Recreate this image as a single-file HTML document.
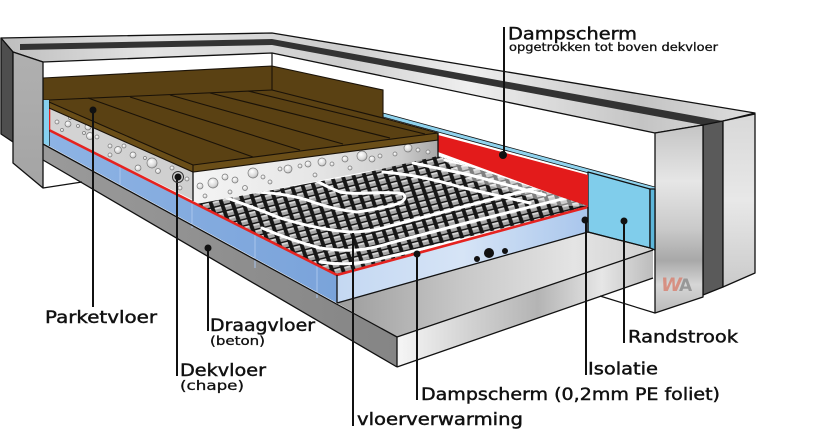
<!DOCTYPE html>
<html><head><meta charset="utf-8"><style>
html,body{margin:0;padding:0;background:#fff;}
svg{display:block;}
.t{font-family:"DejaVu Sans","Liberation Sans",sans-serif;fill:#111;stroke:#111;stroke-width:.45;}
.o{stroke:#111;stroke-width:1.3;stroke-linejoin:round;}
.b{fill:url(#bub);stroke:#7a7a7a;stroke-width:.7;}
</style></head><body>
<svg width="822" height="447" viewBox="0 0 822 447" xmlns="http://www.w3.org/2000/svg">
<defs>
<linearGradient id="gBand" x1="0" y1="0" x2="1" y2="0">
<stop offset="0" stop-color="#bdbdbd"/><stop offset=".2" stop-color="#e4e4e4"/><stop offset=".45" stop-color="#cdcdcd"/><stop offset=".62" stop-color="#efefef"/><stop offset=".85" stop-color="#c4c4c4"/><stop offset="1" stop-color="#dedede"/>
</linearGradient>
<linearGradient id="gSil" x1="0" y1="0" x2="0" y2="1">
<stop offset="0" stop-color="#c4c4c4"/><stop offset=".3" stop-color="#e6e6e6"/><stop offset=".55" stop-color="#cacaca"/><stop offset=".72" stop-color="#a8a8a8"/><stop offset=".85" stop-color="#d6d6d6"/><stop offset="1" stop-color="#bababa"/>
</linearGradient>
<linearGradient id="gSil2" x1="0" y1="0" x2="0" y2="1">
<stop offset="0" stop-color="#d8d8d8"/><stop offset=".5" stop-color="#e8e8e8"/><stop offset="1" stop-color="#cacaca"/>
</linearGradient>
<linearGradient id="gTop" x1="0" y1="0" x2="1" y2="0">
<stop offset="0" stop-color="#9c9c9c"/><stop offset=".4" stop-color="#c8c8c8"/><stop offset=".75" stop-color="#e4e4e4"/><stop offset="1" stop-color="#d0d0d0"/>
</linearGradient>
<linearGradient id="gFront" x1="0" y1="0" x2="1" y2="0">
<stop offset="0" stop-color="#f6f6f6"/><stop offset=".3" stop-color="#d0d0d0"/><stop offset=".55" stop-color="#b4b4b4"/><stop offset=".8" stop-color="#e6e6e6"/><stop offset="1" stop-color="#bcbcbc"/>
</linearGradient>
<linearGradient id="gSlabL" x1="0" y1="0" x2="1" y2="0">
<stop offset="0" stop-color="#9a9a9a"/><stop offset="1" stop-color="#858585"/>
</linearGradient>
<linearGradient id="gBlueL" x1="0" y1="0" x2="1" y2="0">
<stop offset="0" stop-color="#8db3e4"/><stop offset="1" stop-color="#7aa3da"/>
</linearGradient>
<linearGradient id="gBlueR" x1="0" y1="0" x2="1" y2="0">
<stop offset="0" stop-color="#c4d8f2"/><stop offset=".5" stop-color="#d6e4f6"/><stop offset="1" stop-color="#a9c6ec"/>
</linearGradient>
<linearGradient id="gChL" x1="0" y1="0" x2="1" y2="0">
<stop offset="0" stop-color="#d4d4d4"/><stop offset="1" stop-color="#cfcfcf"/>
</linearGradient>
<linearGradient id="gChF" x1="0" y1="0" x2="1" y2="0">
<stop offset="0" stop-color="#f4f4f4"/><stop offset=".5" stop-color="#e6e6e6"/><stop offset=".85" stop-color="#cccccc"/><stop offset="1" stop-color="#a8a8a8"/>
</linearGradient>
<linearGradient id="gWallL" x1="0" y1="0" x2="0" y2="1">
<stop offset="0" stop-color="#b0b0b0"/><stop offset="1" stop-color="#a4a4a4"/>
</linearGradient>
<radialGradient id="bub" cx=".4" cy=".35" r=".7">
<stop offset="0" stop-color="#ffffff"/><stop offset=".7" stop-color="#d8d8d8"/><stop offset="1" stop-color="#a0a0a0"/>
</radialGradient>
<pattern id="knob" width="10" height="6" patternUnits="userSpaceOnUse" patternTransform="matrix(1,-0.25,0.35,1,0,0)">
<rect width="10" height="6" fill="#161616"/>
<rect x="0.4" y="0.5" width="6.2" height="4.6" fill="#a4a4a4"/>
<rect x="0.4" y="0.5" width="6.2" height="1.7" fill="#d8d8d8"/>
</pattern>
<clipPath id="matClip"><polygon points="196,204 240,196 300,185 360,174 438,156 588,206 337,275"/></clipPath>
</defs>

<!-- frame top band -->
<polygon points="1,38 272,33 755,113 723,121 703,125 655,133 272,53 43,62 13,52" fill="url(#gBand)" class="o"/>
<polygon points="20,44 272,39 723,121 703,125 272,45 20,50" fill="#333"/>
<line x1="272" y1="53" x2="272" y2="66" stroke="#111" stroke-width="1.2"/>
<!-- left dark piece -->
<polygon points="1,38 13,52 13,142 1,134" fill="#4e4e4e" class="o"/>

<!-- right wall -->
<polygon points="703,125 723,121 723,287 703,295" fill="#5a5a5a" class="o"/>
<polygon points="723,121 755,114 755,273 723,287" fill="url(#gSil2)" class="o"/>
<polygon points="655,133 703,125 703,297 655,313" fill="url(#gSil)" class="o"/>
<text x="661" y="291" font-family="DejaVu Sans,sans-serif" font-size="19" font-weight="bold" font-style="italic" fill="#d8806f" opacity=".8">W</text>
<text x="679" y="291" font-family="DejaVu Sans,sans-serif" font-size="17" font-weight="bold" fill="#8a8a8a" opacity=".8">A</text>

<!-- slab -->
<polygon points="43,144 397,337 397,367 43,160" fill="url(#gSlabL)"/>
<polygon points="337,303 588,232 653,250 397,337" fill="url(#gTop)"/>
<polygon points="397,337 653,250 653,278 397,367" fill="url(#gFront)"/>
<line x1="600" y1="296" x2="655" y2="313" stroke="#111" stroke-width="1.2"/>
<line x1="43" y1="188" x2="82" y2="182" stroke="#111" stroke-width="1.2"/>

<!-- insulation -->
<polygon points="49,130 337,275 337,303 49,146" fill="url(#gBlueL)"/>
<line x1="192" y1="202" x2="192" y2="228" stroke="#a9c5ec" stroke-width="1"/>
<line x1="255" y1="234" x2="255" y2="268" stroke="#a9c5ec" stroke-width="1"/>
<line x1="317" y1="265" x2="317" y2="298" stroke="#a9c5ec" stroke-width="1"/>
<line x1="120" y1="166" x2="120" y2="186" stroke="#a9c5ec" stroke-width="1"/>
<polygon points="337,275 588,207 588,232 337,303" fill="url(#gBlueR)"/>
<circle cx="477" cy="259" r="3" fill="#111"/>
<circle cx="489" cy="253" r="5" fill="#111"/>
<circle cx="505" cy="251" r="3" fill="#111"/>

<!-- randstrook right -->
<polygon points="383,113 655,187 655,191 383,117" fill="#8fd3ee" stroke="#111" stroke-width=".8"/>
<polygon points="588,172 650,189 650,248 588,232" fill="#80cdeb" class="o"/>
<polygon points="650,189 655,189 655,250 650,248" fill="#5db6da" class="o"/>

<!-- red vertical dampscherm -->
<polygon points="438,135 588,175 588,207 438,152" fill="#e31b1b"/>

<!-- chape faces -->
<polygon points="49,108 193,170 193,200 49,130" fill="url(#gChL)"/>
<polygon points="193,170 438,138 438,158 196,204 193,201" fill="url(#gChF)"/>
<g>
<circle class="b" cx="57" cy="122" r="2"/><circle class="b" cx="68" cy="124" r="3"/><circle class="b" cx="62" cy="130" r="1.5"/>
<circle class="b" cx="88" cy="127" r="3"/><circle class="b" cx="90" cy="136" r="3.5"/><circle class="b" cx="97" cy="137" r="2"/>
<circle class="b" cx="84" cy="133" r="1.5"/><circle class="b" cx="110" cy="146" r="2"/><circle class="b" cx="118" cy="150" r="3.5"/>
<circle class="b" cx="124" cy="146" r="2"/><circle class="b" cx="133" cy="155" r="3"/><circle class="b" cx="152" cy="163" r="5"/>
<circle class="b" cx="158" cy="171" r="2.5"/><circle class="b" cx="138" cy="168" r="3"/><circle class="b" cx="172" cy="168" r="2"/>
<circle class="b" cx="187" cy="179" r="2"/><circle class="b" cx="180" cy="188" r="2"/><circle class="b" cx="110" cy="155" r="2"/>
<circle class="b" cx="145" cy="158" r="1.5"/><circle class="b" cx="70" cy="118" r="1.5"/><circle class="b" cx="78" cy="126" r="1.5"/>
<circle class="b" cx="200" cy="186" r="3"/><circle class="b" cx="213" cy="183" r="5"/><circle class="b" cx="225" cy="177" r="3"/>
<circle class="b" cx="235" cy="180" r="3"/><circle class="b" cx="253" cy="173" r="5"/><circle class="b" cx="263" cy="177" r="2"/>
<circle class="b" cx="280" cy="169" r="2"/><circle class="b" cx="288" cy="169" r="4"/><circle class="b" cx="300" cy="166" r="2"/>
<circle class="b" cx="308" cy="164" r="3"/><circle class="b" cx="322" cy="162" r="4"/><circle class="b" cx="332" cy="164" r="2"/>
<circle class="b" cx="345" cy="159" r="3"/><circle class="b" cx="362" cy="156" r="5"/><circle class="b" cx="372" cy="159" r="3"/>
<circle class="b" cx="380" cy="156" r="2"/><circle class="b" cx="395" cy="154" r="2"/><circle class="b" cx="408" cy="148" r="4"/>
<circle class="b" cx="418" cy="150" r="2"/><circle class="b" cx="428" cy="152" r="2"/><circle class="b" cx="245" cy="188" r="2.5"/>
<circle class="b" cx="270" cy="182" r="2"/><circle class="b" cx="230" cy="192" r="2"/><circle class="b" cx="205" cy="196" r="2"/>
<circle class="b" cx="315" cy="175" r="2"/><circle class="b" cx="350" cy="168" r="2"/>
</g>

<!-- heating mat -->
<g clip-path="url(#matClip)">
<rect x="190" y="150" width="400" height="130" fill="url(#knob)"/>
<polygon points="438,156 588,206 560,206 470,180" fill="#fff" opacity=".45"/>
<g fill="none" stroke="#fff" stroke-width="3" stroke-linecap="round">
<path d="M257,192 Q290,194 310,201 Q335,210 357,212 Q385,208 400,203 Q408,198 403,194 Q395,192 370,193 Q350,194 340,192 Q325,186 317,181"/>
<path d="M227,198 Q255,208 280,218 Q320,230 350,232 Q370,232 390,226 L470,205 L560,182"/>
<path d="M262,228 Q290,240 320,248 Q340,251 357,250 Q375,248 390,243 L470,222 L590,192"/>
<path d="M320,262 Q345,266 370,261 L470,238 L590,208"/>
<path d="M383,172 Q420,175 460,187 L530,203"/>
<path d="M413,163 L470,175 L545,195"/>
<path d="M445,160 L500,172 L575,196"/>
</g>
</g>

<!-- red dampscherm lines -->
<polyline points="49,98 49,130 337,275 588,207" fill="none" stroke="#e52320" stroke-width="2.6"/>
<line x1="49" y1="130" x2="49" y2="146" stroke="#111" stroke-width="1.3"/>

<!-- parquet -->
<polygon points="43,78 272,66 383,90 383,118 438,133 438,140 193,172 49,108 49,100 43,100" fill="#5a4113"/>
<polygon points="49,102 193,165 438,133 438,140 193,172 49,108" fill="#6a4e18"/>
<g stroke="#1a1208" stroke-width="1.1" fill="none">
<polygon points="43,78 272,66 383,90 383,118 438,133 438,140 193,172 49,108 49,100 43,100"/>
<line x1="49" y1="100" x2="272" y2="90"/>
<line x1="272" y1="66" x2="272" y2="90"/>
<line x1="272" y1="90" x2="383" y2="118"/>
<line x1="49" y1="102" x2="193" y2="165"/>
<line x1="193" y1="165" x2="438" y2="133"/>
<line x1="88" y1="98" x2="253" y2="157"/>
<line x1="130" y1="97" x2="300" y2="150"/>
<line x1="170" y1="95" x2="343" y2="144"/>
<line x1="210" y1="93" x2="390" y2="138"/>
<line x1="248" y1="91" x2="425" y2="134"/>
<line x1="193" y1="165" x2="193" y2="172"/>
</g>

<!-- left randstrook -->
<polygon points="43,100 49,100 49,146 43,143" fill="#86d0ef"/>

<!-- left wall face -->
<polygon points="13,52 43,62 43,188 13,163" fill="url(#gWallL)" class="o"/>

<!-- outlines -->
<g class="o" fill="none">
<line x1="43" y1="144" x2="397" y2="337"/>
<line x1="43" y1="160" x2="397" y2="367"/>
<line x1="397" y1="337" x2="397" y2="367"/>
<line x1="397" y1="337" x2="653" y2="250"/>
<line x1="397" y1="367" x2="653" y2="278"/>
<line x1="337" y1="275" x2="337" y2="303"/>
<line x1="337" y1="303" x2="588" y2="232"/>
<line x1="588" y1="207" x2="588" y2="232"/>
<line x1="588" y1="232" x2="650" y2="248"/>
<line x1="193" y1="172" x2="193" y2="201"/>
<line x1="438" y1="133" x2="438" y2="158"/>
</g>

<!-- leader lines -->
<g stroke="#111" stroke-width="2" fill="none">
<line x1="504" y1="27" x2="504" y2="155"/>
<line x1="93" y1="110" x2="93" y2="307"/>
<line x1="177" y1="177" x2="177" y2="376"/>
<line x1="208" y1="248" x2="208" y2="331"/>
<line x1="353" y1="233" x2="353" y2="426"/>
<line x1="417" y1="254" x2="417" y2="400"/>
<line x1="586" y1="220" x2="586" y2="375"/>
<line x1="624" y1="221" x2="624" y2="343"/>
</g>
<g fill="#111">
<circle cx="503" cy="155" r="4"/>
<circle cx="93" cy="110" r="3.5"/>
<circle cx="178" cy="177" r="3.5"/>
<circle cx="208" cy="248" r="3.5"/>
<circle cx="417" cy="254" r="3.5"/>
<circle cx="585" cy="220" r="3.5"/>
<circle cx="624" cy="221" r="3.5"/>
</g>
<circle cx="178" cy="177" r="5.5" fill="none" stroke="#333" stroke-width="1"/>

<!-- labels -->
<text class="t" x="508" y="39.5" font-size="17" textLength="129" lengthAdjust="spacingAndGlyphs">Dampscherm</text>
<text class="t" x="509" y="51" font-size="11.5" textLength="209" lengthAdjust="spacingAndGlyphs" style="stroke-width:.3">opgetrokken tot boven dekvloer</text>
<text class="t" x="45" y="323" font-size="17" textLength="112" lengthAdjust="spacingAndGlyphs">Parketvloer</text>
<text class="t" x="210" y="331" font-size="17" textLength="105" lengthAdjust="spacingAndGlyphs">Draagvloer</text>
<text class="t" x="210" y="345" font-size="12" textLength="55" lengthAdjust="spacingAndGlyphs" style="stroke-width:.3">(beton)</text>
<text class="t" x="180" y="376" font-size="17" textLength="86" lengthAdjust="spacingAndGlyphs">Dekvloer</text>
<text class="t" x="180" y="390" font-size="13" textLength="64" lengthAdjust="spacingAndGlyphs" style="stroke-width:.3">(chape)</text>
<text class="t" x="357" y="425" font-size="17" textLength="166" lengthAdjust="spacingAndGlyphs">vloerverwarming</text>
<text class="t" x="421" y="400" font-size="17" textLength="299" lengthAdjust="spacingAndGlyphs">Dampscherm (0,2mm PE foliet)</text>
<text class="t" x="588" y="374.5" font-size="17" textLength="70" lengthAdjust="spacingAndGlyphs">Isolatie</text>
<text class="t" x="628" y="342.5" font-size="17" textLength="110" lengthAdjust="spacingAndGlyphs">Randstrook</text>
</svg>
</body></html>
